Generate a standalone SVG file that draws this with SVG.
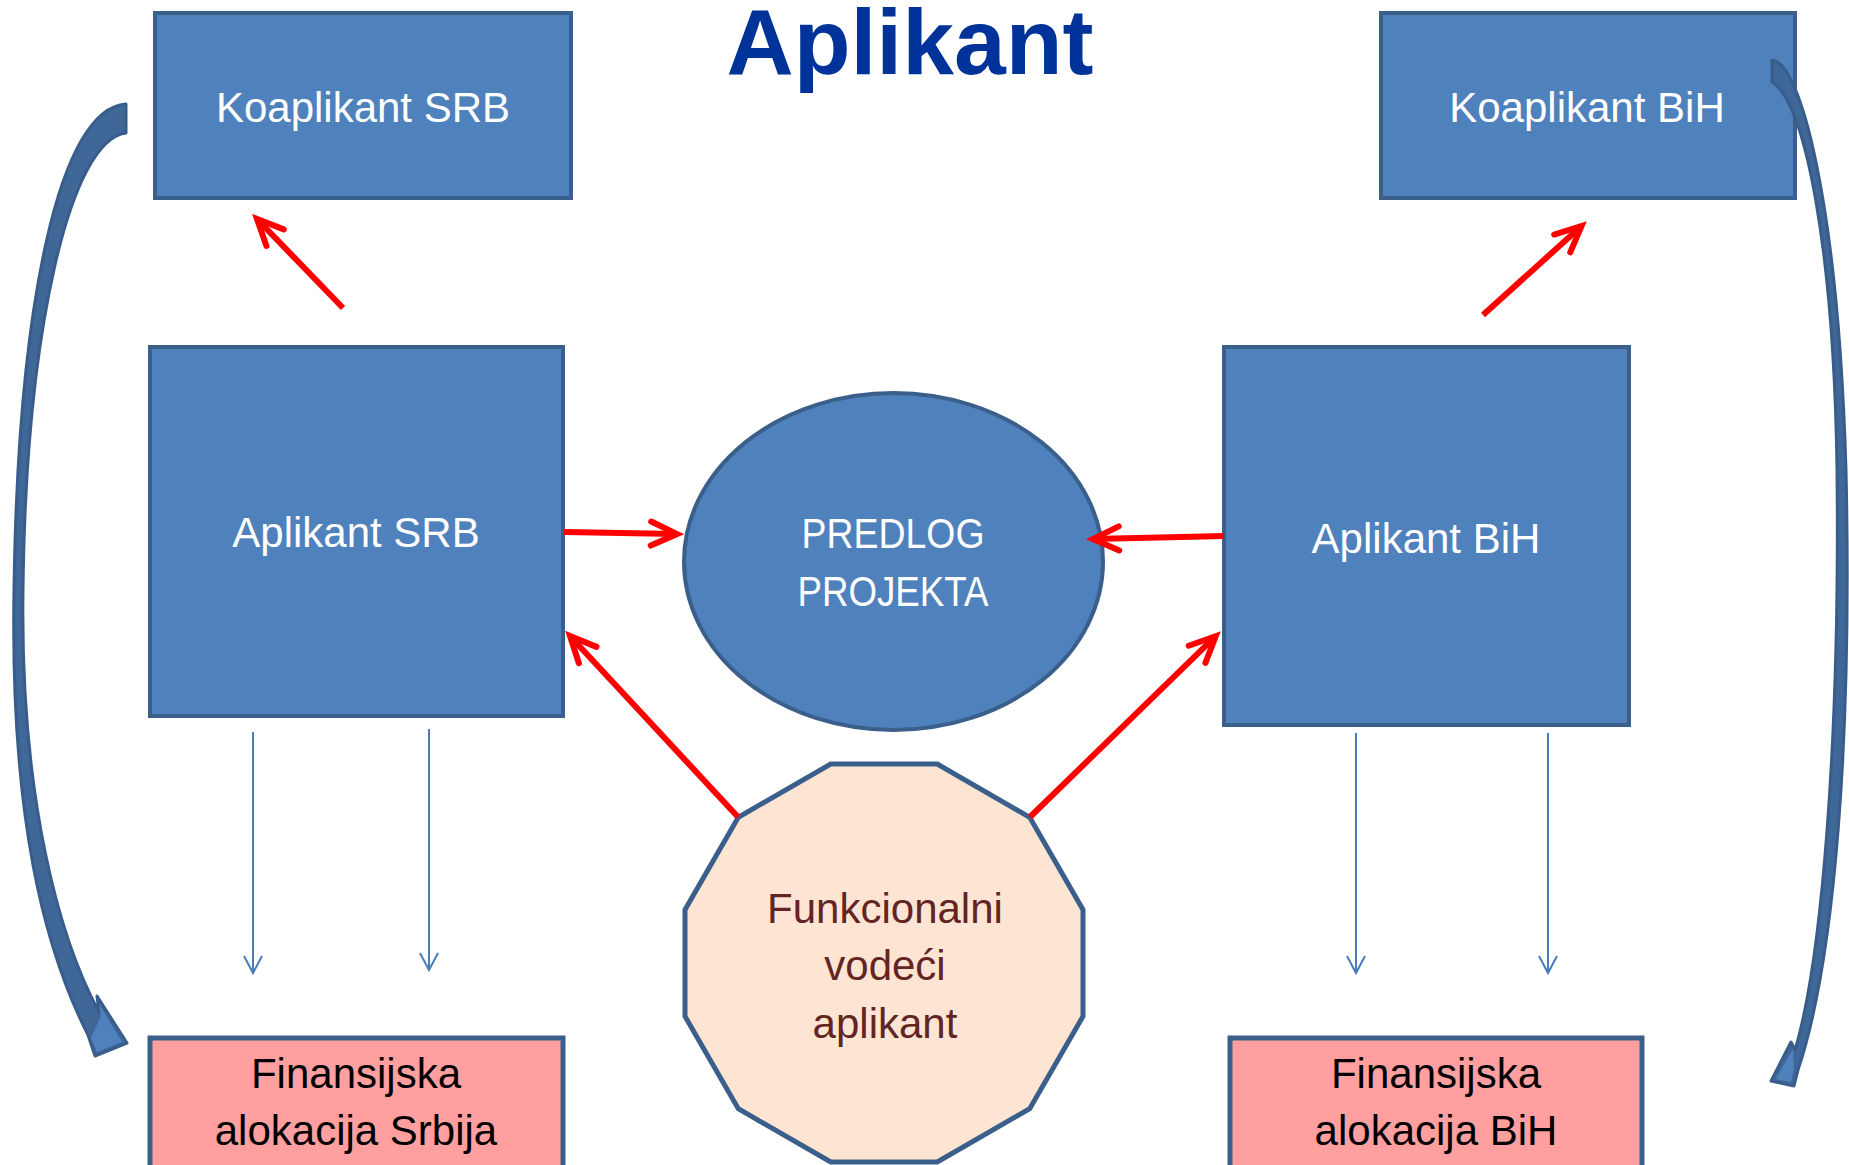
<svg xmlns="http://www.w3.org/2000/svg" width="1849" height="1165" viewBox="0 0 1849 1165">
<defs>
<style>
.box{fill:#4f81bd;stroke:#3a5f8b;stroke-width:4}
.fin{fill:#ff9f9f;stroke:#3a5f8b;stroke-width:5}
.t{font-family:"Liberation Sans",Arial,sans-serif;font-size:42px;text-anchor:middle}
.w{fill:#ffffff}
.k{fill:#000000}
.br{fill:#632523}
.red{stroke:#ff0000;stroke-width:6;fill:none;marker-end:url(#ra)}
.thin{stroke:#4a7ebb;stroke-width:2;fill:none;marker-end:url(#ba)}
.curve{fill:#3f6899;stroke:#385d8a;stroke-width:3;stroke-linejoin:round}
.head{fill:#4f81bd;stroke:none}
</style>
<marker id="ra" markerUnits="userSpaceOnUse" markerWidth="60" markerHeight="60" refX="0" refY="0" orient="auto" overflow="visible">
<path d="M-26,-12 L0,0 L-26,12" fill="none" stroke="#ff0000" stroke-width="6" stroke-linecap="round" stroke-linejoin="miter"/>
</marker>
<marker id="ba" markerUnits="userSpaceOnUse" markerWidth="40" markerHeight="40" refX="0" refY="0" orient="auto" overflow="visible">
<path d="M-17,-9 L0,0 L-17,9" fill="none" stroke="#4a7ebb" stroke-width="2"/>
</marker>
</defs>
<rect width="1849" height="1165" fill="#ffffff"/>

<text x="910" y="74" font-family="'Liberation Sans',Arial,sans-serif" font-size="93" font-weight="bold" fill="#003399" text-anchor="middle">Aplikant</text>

<g id="koaplikant-srb">
<rect class="box" x="155" y="13" width="416" height="185"/>
<text class="t w" x="363" y="122">Koaplikant SRB</text>
</g>
<g id="koaplikant-bih">
<rect class="box" x="1381" y="13" width="414" height="185"/>
<text class="t w" x="1587" y="122">Koaplikant BiH</text>
</g>
<g id="aplikant-srb">
<rect class="box" x="150" y="347" width="413" height="369"/>
<text class="t w" x="356" y="547">Aplikant SRB</text>
</g>
<g id="aplikant-bih">
<rect class="box" x="1224" y="347" width="405" height="378"/>
<text class="t w" x="1426" y="553">Aplikant BiH</text>
</g>
<g id="predlog-projekta">
<ellipse cx="893.5" cy="561.5" rx="209.5" ry="168.5" fill="#4f81bd" stroke="#3a5f8b" stroke-width="4"/>
<text class="t w" x="893" y="548" textLength="183" lengthAdjust="spacingAndGlyphs">PREDLOG</text>
<text class="t w" x="893" y="606" textLength="191" lengthAdjust="spacingAndGlyphs">PROJEKTA</text>
</g>
<g id="funkcionalni-vodeci-aplikant">
<polygon points="937.3,764 1029.7,817.3 1083,909.7 1083,1016.3 1029.7,1108.7 937.3,1162 830.7,1162 738.3,1108.7 685,1016.3 685,909.7 738.3,817.3 830.7,764" fill="#fde4d3" stroke="#3a5f8b" stroke-width="5" stroke-linejoin="miter"/>
<text class="t br" x="885" y="923">Funkcionalni</text>
<text class="t br" x="885" y="980">vodeći</text>
<text class="t br" x="885" y="1038">aplikant</text>
</g>
<g id="finansijska-srbija">
<rect class="fin" x="150" y="1038" width="413" height="140"/>
<text class="t k" x="356" y="1088">Finansijska</text>
<text class="t k" x="356" y="1145">alokacija Srbija</text>
</g>
<g id="finansijska-bih">
<rect class="fin" x="1230" y="1038" width="412" height="140"/>
<text class="t k" x="1436" y="1088">Finansijska</text>
<text class="t k" x="1436" y="1145">alokacija BiH</text>
</g>

<g id="connectors">
<line class="red" x1="343" y1="308" x2="257" y2="219"/>
<line class="red" x1="1483" y1="315" x2="1581.5" y2="226"/>
<line class="red" x1="564" y1="532" x2="677" y2="534"/>
<line class="red" x1="1224" y1="536" x2="1093" y2="539"/>
<line class="red" x1="738" y1="817" x2="570" y2="636"/>
<line class="red" x1="1030" y1="817" x2="1215.7" y2="636.2"/>
<line class="thin" x1="253" y1="732" x2="253" y2="973"/>
<line class="thin" x1="429" y1="729" x2="429" y2="970"/>
<line class="thin" x1="1356" y1="733" x2="1356" y2="973"/>
<line class="thin" x1="1548" y1="733" x2="1548" y2="973"/>
<path class="curve" d="M126,104 C60,108 18,300 14,590 C10,820 45,950 88,1035 L95,1056 L127,1043 L97,996 L99,1012 C60,940 20,800 23,590 C26,330 70,140 126,133 Z"/>
<path class="head" d="M91,1038 L97,1052 L122,1042 L99,1004 L101,1016 Z"/>
<path class="curve" d="M1772,60 C1800,62 1838,200 1846,470 C1852,740 1835,960 1798,1070 L1794,1086 L1771,1081 L1791,1042 L1795,1050 C1822,960 1840,740 1837,470 C1834,250 1805,100 1772,82 Z"/>
<path class="head" d="M1793,1049 L1776,1079 L1791,1082 L1794,1068 Z"/>
</g>
</svg>
